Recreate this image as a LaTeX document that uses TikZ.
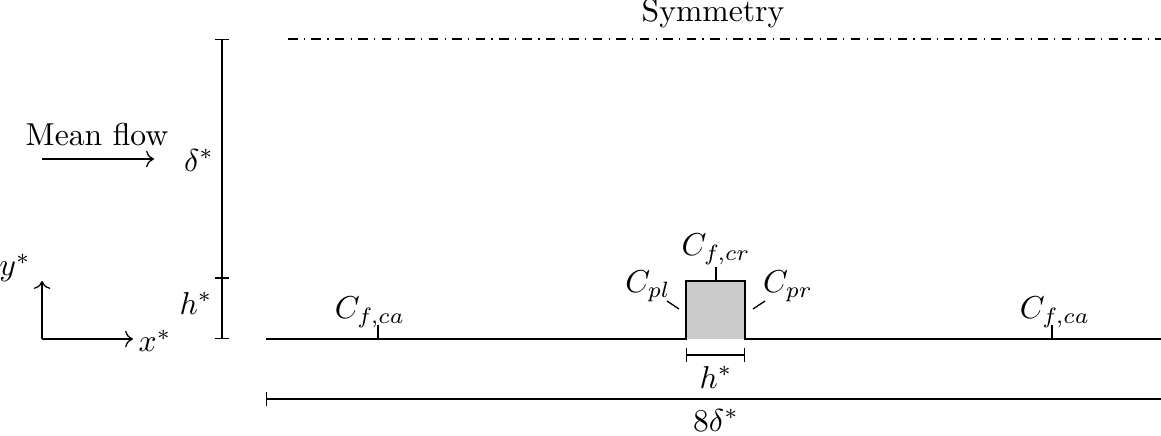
\documentclass[tikz,border=0pt]{standalone}
\usetikzlibrary{arrows.meta,positioning}

\begin{document}
\begin{tikzpicture}[
  x=0.0111cm, y=-0.0111cm,
  wall/.style={thick},
  dimline/.style={{Bar[width=1.6mm]}-{Bar[width=1.6mm]}},
  probe/.style={thin},
  lbl/.style={inner sep=1pt}
]
\useasboundingbox (0,0) rectangle (1161,436);

% domain corners
\coordinate (wallL) at (266,339);
\coordinate (wallR) at (1161,339);
\coordinate (blkBL) at (686,339);
\coordinate (blkTL) at (686,281);
\coordinate (blkTR) at (745,281);
\coordinate (blkBR) at (745,339);

% symmetry plane
\coordinate (symL) at (288,39);
\coordinate (symR) at (1161,39);
\draw[dash dot] (symL) -- (symR);
\node (sym) at (713,14) {Symmetry};

% wall and rib
\fill[gray!40] (blkBL) rectangle (blkTR);
\draw[wall] (wallL) -- (blkBL) -- (blkTL) -- (blkTR) -- (blkBR) -- (wallR);

% vertical dimensions
\coordinate (dTop) at (222,39);
\coordinate (dMid) at (222,278);
\coordinate (dBot) at (222,339);
\draw[dimline] (dTop) -- (dMid);
\draw[dimline] (dMid) -- (dBot);
\node[lbl] (delta) at (199,160) {$\delta^*$};
\node[lbl] (hv) at (196,303) {$h^*$};

% horizontal dimensions
\coordinate (hL) at (686,355);
\coordinate (hR) at (745,355);
\draw[dimline] (hL) -- (hR);
\node[lbl] (hh) at (716,377) {$h^*$};
\coordinate (lL) at (266,399);
\coordinate (lR) at (1168,399);
\draw[dimline] (lL) -- (lR);
\node[lbl] (len) at (716,420) {$8\delta^*$};

% measurement points
\coordinate (caL) at (378,339);
\coordinate (caR) at (1052,339);
\coordinate (cr) at (716,281);
\draw[probe] (caL) -- ++(0,-14);
\draw[probe] (caR) -- ++(0,-14);
\draw[probe] (cr) -- ++(0,-14);
\draw[probe] (667,301) -- (679,309);
\draw[probe] (753,309) -- (765,301);
\node[lbl] (cfcaL) at (370,312) {$C_{f,ca}$};
\node[lbl] (cfcaR) at (1055,312) {$C_{f,ca}$};
\node[lbl] (cfcr) at (716,249) {$C_{f,cr}$};
\node[lbl] (cpl) at (648,286) {$C_{pl}$};
\node[lbl] (cpr) at (788,286) {$C_{pr}$};

% mean flow
\node (flow) at (97,135) {Mean flow};
\coordinate (fL) at (42,159);
\coordinate (fR) at (154,159);
\draw[->] (fL) -- (fR);

% axes
\coordinate (orig) at (42,339);
\coordinate (yEnd) at (42,281);
\coordinate (xEnd) at (133,339);
\draw[->] (orig) -- (yEnd);
\draw[->] (orig) -- (xEnd);
\node[lbl] (ylab) at (15,268) {$y^*$};
\node[lbl] (xlab) at (155,341) {$x^*$};
\end{tikzpicture}
\end{document}
